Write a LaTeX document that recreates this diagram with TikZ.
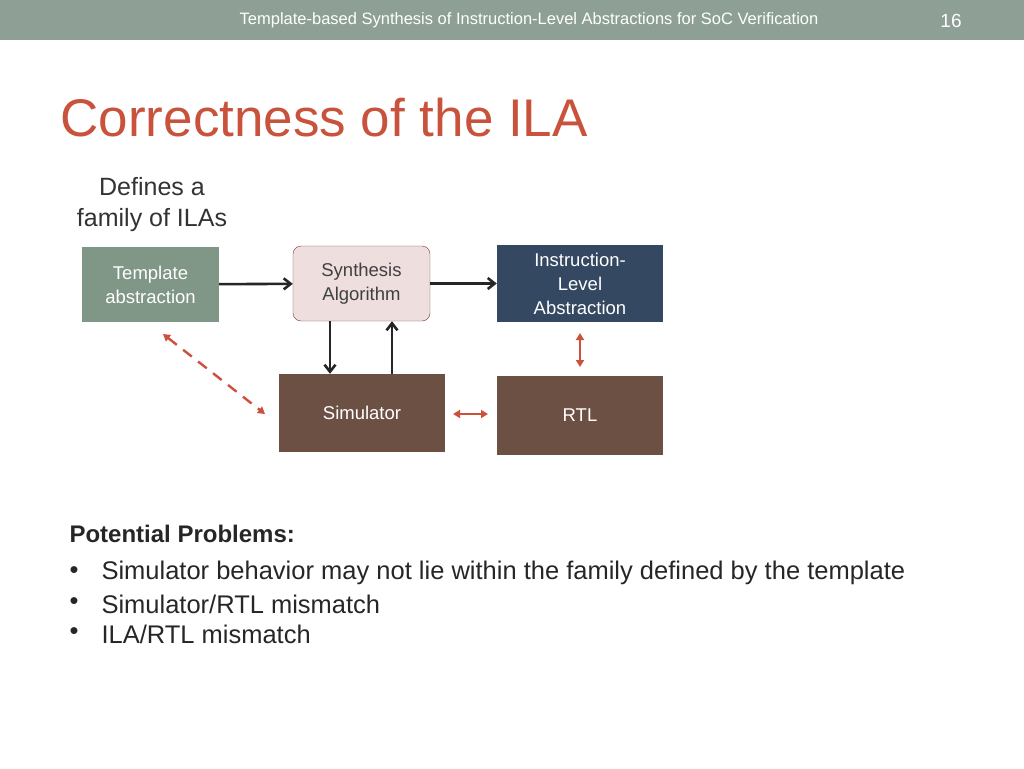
\documentclass[tikz,border=0pt]{standalone}
\usepackage{fontspec}
\setmainfont{Liberation Sans}
\usetikzlibrary{arrows.meta}
\definecolor{hdr}{RGB}{142,160,150}
\definecolor{ttl}{RGB}{200,82,60}
\definecolor{tmpl}{RGB}{128,150,134}
\definecolor{syn}{RGB}{238,222,222}
\definecolor{synb}{RGB}{120,60,60}
\definecolor{ila}{RGB}{52,72,98}
\definecolor{brn}{RGB}{108,80,68}
\definecolor{rd}{RGB}{205,80,60}
\tikzset{
 blk/.style={minimum width=#1pt, minimum height=76pt, inner sep=0pt, align=center, text=white, font=\fontsize{18.5pt}{24pt}\selectfont},
 ar/.style={-{Straight Barb[length=7pt,width=11pt]}, line width=2.6pt, black!85},
 rarr/.style={{Triangle[length=7pt,width=8pt]}-{Triangle[length=7pt,width=8pt]}, line width=2.4pt, rd}
}
\begin{document}
\begin{tikzpicture}[x=1pt,y=-1pt]
\useasboundingbox (0,0) rectangle (1024,768);
\fill[hdr] (0,0) rectangle (1024,40);
\node[text=white, font=\fontsize{16.5pt}{18pt}\selectfont] (h) at (529,20) {Template-based Synthesis of Instruction-Level Abstractions for SoC Verification};
\node[text=white, font=\fontsize{19pt}{20pt}\selectfont] (pg) at (951,21) {16};
\node[anchor=west, text=ttl, font=\fontsize{53pt}{56pt}\selectfont] (t) at (57,118) {Correctness of the ILA};
\node[align=center, font=\fontsize{25pt}{31pt}\selectfont, text=black!80] (d) at (152,205) {Defines a\\family of ILAs};
\node[blk=137, fill=tmpl, minimum height=75pt] (tp) at (150.5,284.5) {Template\\abstraction};
\node[blk=137, fill=syn, draw=synb, rounded corners=8pt, text=black!75, minimum height=75pt] (sy) at (361.5,283.5) {Synthesis\\Algorithm};
\node[blk=166, fill=ila, minimum height=77pt] (il) at (580,283.5) {Instruction-\\Level\\Abstraction};
\node[blk=166, fill=brn, minimum height=78pt] (si) at (362,413) {Simulator};
\node[blk=166, fill=brn, minimum height=79pt] (rt) at (580,415.5) {RTL};
\draw[ar] (tp) -- (sy);
\draw[ar] (sy) -- (il);
\draw[ar] (sy.south -| 330,0) -- (si.north -| 330,0);
\draw[ar] (si.north -| 392,0) -- (sy.south -| 392,0);
\coordinate (a1) at (163,334); \coordinate (a2) at (265,414);
\draw[rarr, dash pattern=on 11pt off 8pt] (a1) -- (a2);
\coordinate (b1) at (580,333); \coordinate (b2) at (580,367);
\draw[rarr] (b1) -- (b2);
\coordinate (c1) at (453,414); \coordinate (c2) at (488,414);
\draw[rarr] (c1) -- (c2);
\node[anchor=west, font=\bfseries\fontsize{24pt}{26pt}\selectfont, text=black!85] (pp) at (66,534) {Potential Problems:};
\begin{scope}[every node/.style={anchor=west, font=\fontsize{25.5pt}{28pt}\selectfont, text=black!85}]
\node (b1t) at (66,573) {•}; \node (l1) at (98,573) {Simulator behavior may not lie within the family defined by the template};
\node (b2t) at (66,604) {•}; \node (l2) at (98,604) {Simulator/RTL mismatch};
\node (b3t) at (66,634) {•}; \node (l3) at (98,634) {ILA/RTL mismatch};
\end{scope}
\end{tikzpicture}
\end{document}
